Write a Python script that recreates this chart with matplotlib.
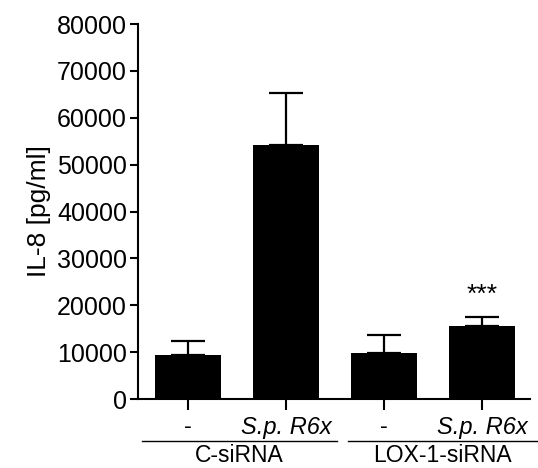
import numpy as np
import matplotlib
matplotlib.use("Agg")
import matplotlib.pyplot as plt
import matplotlib.transforms as mtransforms

# values
Array_Labels = ["-", "S.p. R6x", "-", "S.p. R6x"]
Array_Means = [9400, 54200, 9800, 15600]
Array_SEM = [3000, 11100, 3900, 1900]
List_Groups = [("C-siRNA", -0.47, 1.52), ("LOX-1-siRNA", 1.63, 3.57)]
Str_Star = "***"

plt.rcParams['font.family'] = ['Liberation Sans', 'DejaVu Sans']

fig = plt.figure(figsize=(5.38, 4.68), dpi=100)
ax = fig.add_axes([0.2565, 0.1474, 0.7285, 0.8013])

Array_X = np.arange(len(Array_Means))
ax.bar(Array_X, Array_Means, width=0.67, color="black", zorder=2)
ax.errorbar(Array_X, Array_Means, yerr=[np.zeros(len(Array_SEM)), Array_SEM],
            fmt="none", ecolor="black", elinewidth=1.6, capsize=12, capthick=1.6, zorder=1)

ax.set_xlim(-0.51, 3.49)
ax.set_ylim(0, 80000)
ax.set_yticks(np.arange(0, 80001, 10000))
ax.set_xticks(Array_X)
ax.set_xticklabels(Array_Labels)
for i, lbl in enumerate(ax.get_xticklabels()):
    if Array_Labels[i] != "-":
        lbl.set_style("italic")

ax.spines['top'].set_visible(False)
ax.spines['right'].set_visible(False)
ax.spines['left'].set_linewidth(1.5)
ax.spines['bottom'].set_linewidth(1.5)
ax.tick_params(axis='y', labelsize=18, length=6, width=1.5, pad=2)
ax.tick_params(axis='x', labelsize=17, length=8, width=1.5, pad=4)
ax.set_ylabel("IL-8 [pg/ml]", fontsize=19, labelpad=4)

ax.text(Array_X[3], Array_Means[3] + Array_SEM[3] + 2200, Str_Star,
        ha='center', va='bottom', fontsize=19)

trans = mtransforms.blended_transform_factory(ax.transData, ax.transAxes)
for name, x0, x1 in List_Groups:
    ax.plot([x0, x1], [-0.112, -0.112], color="black", lw=1.0,
            transform=trans, clip_on=False)
    ax.text((x0 + x1) / 2, -0.168, name, ha='center', va='baseline',
            fontsize=16.5, transform=trans)

plt.savefig("out.png", dpi=100)
